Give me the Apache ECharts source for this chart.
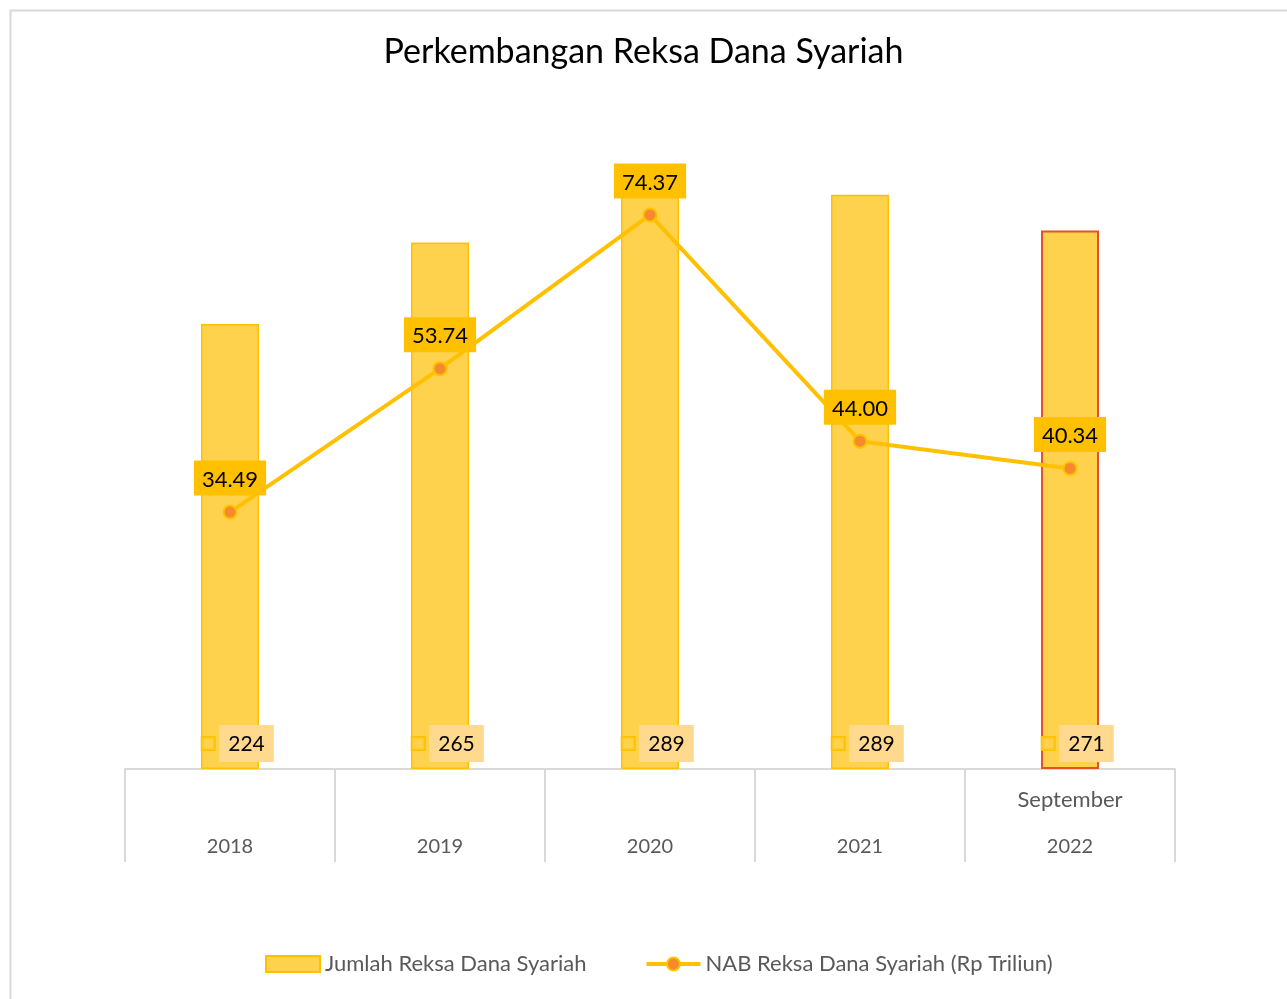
<!DOCTYPE html>
<html>
<head>
<meta charset="utf-8">
<script src="https://cdn.jsdelivr.net/npm/echarts@6/dist/echarts.min.js"></script>
<style>
  html, body { margin: 0; padding: 0; background: #fff; }
  #chart { width: 1287px; height: 999px; }
</style>
</head>
<body>
<div id="chart"></div>
<script>
// data
const years = ['2018', '2019', '2020', '2021', '2022']
const months = ['', '', '', '', 'September']
const jumlahRD = [224, 265, 289, 289, 271]
const nabRD = [34.49, 53.74, 74.37, 44.00, 40.34]

const YELLOW = '#ffc000'
const BAR_FILL = '#ffd24d'
const FONT = 'Lato, "Open Sans", sans-serif'

const chart = echarts.init(document.getElementById('chart'))

const barData = jumlahRD.map((v, i) => ({
  value: v,
  itemStyle: i === jumlahRD.length - 1 ? { borderColor: '#e8502a', borderWidth: 2 } : undefined,
}))

chart.setOption({
  animation: false,
  backgroundColor: '#fff',
  textStyle: { fontFamily: FONT },
  title: {
    text: 'Perkembangan Reksa Dana Syariah',
    left: 'center', top: 30,
    textStyle: { fontSize: 34, fontWeight: 'normal', color: '#000', fontFamily: FONT },
  },
  graphic: [{
    type: 'rect', left: 8, top: 8,
    shape: { width: 1400, height: 1100 },
    style: { fill: 'none', stroke: '#d9d9d9', lineWidth: 2 },
    silent: true, z: -1,
  }],
  legend: {
    bottom: 19, left: 260,
    itemGap: 58,
    textStyle: { fontSize: 22, color: '#595959', fontFamily: FONT },
    data: [
      { name: 'Jumlah Reksa Dana Syariah', icon: 'rect', itemStyle: { color: BAR_FILL, borderColor: YELLOW, borderWidth: 2 } },
      { name: 'NAB Reksa Dana Syariah (Rp Triliun)', lineStyle: { width: 4, color: YELLOW } },
    ],
    itemWidth: 54, itemHeight: 16,
  },
  grid: { left: 125, right: 112, top: 173, bottom: 230 },
  xAxis: {
    type: 'category',
    data: years,
    axisLine: { lineStyle: { color: '#d9d9d9', width: 2 } },
    axisTick: { show: true, length: 93, interval: 0, lineStyle: { color: '#d9d9d9', width: 2 } },
    axisLabel: {
      interval: 0, margin: 7,
      color: '#595959',
      formatter: (v, i) => '{m|' + months[i] + '}\n{y|' + v + '}',
      rich: {
        m: { fontSize: 22, lineHeight: 47, color: '#595959' },
        y: { fontSize: 20, lineHeight: 47, color: '#595959' },
      },
    },
  },
  yAxis: [
    { type: 'value', min: 0, max: 300, show: false, splitLine: { show: false } },
    { type: 'value', min: 0, max: 80, show: false, splitLine: { show: false } },
  ],
  series: [
    {
      name: 'Jumlah Reksa Dana Syariah',
      type: 'bar',
      data: barData,
      barWidth: 58,
      itemStyle: { color: BAR_FILL, borderColor: YELLOW, borderWidth: 1.5 },
      label: {
        show: true,
        position: 'insideBottom',
        distance: 7,
        offset: [8, 0],
        formatter: (p) => '{sq|}{gap|}{v|' + p.value + '}',
        rich: {
          sq: { width: 12, height: 12, borderColor: YELLOW, borderWidth: 1.5, backgroundColor: 'rgba(255,210,77,0.6)' },
          gap: { width: 5 },
          v: { fontSize: 21, color: '#000', backgroundColor: '#ffd98e', padding: [9, 9, 7, 9], fontFamily: FONT },
        },
      },
      z: 2,
    },
    {
      name: 'NAB Reksa Dana Syariah (Rp Triliun)',
      type: 'line',
      yAxisIndex: 1,
      data: nabRD,
      lineStyle: { color: YELLOW, width: 4 },
      symbol: 'circle', symbolSize: 13,
      itemStyle: { color: '#f5892b', borderColor: YELLOW, borderWidth: 2 },
      label: {
        show: true, position: 'top', distance: 9,
        formatter: (p) => p.value.toFixed(2),
        fontSize: 22, color: '#000', fontFamily: FONT,
        backgroundColor: YELLOW, padding: [8, 8, 5, 8],
      },
      z: 3,
    },
  ],
})
</script>
</body>
</html>
